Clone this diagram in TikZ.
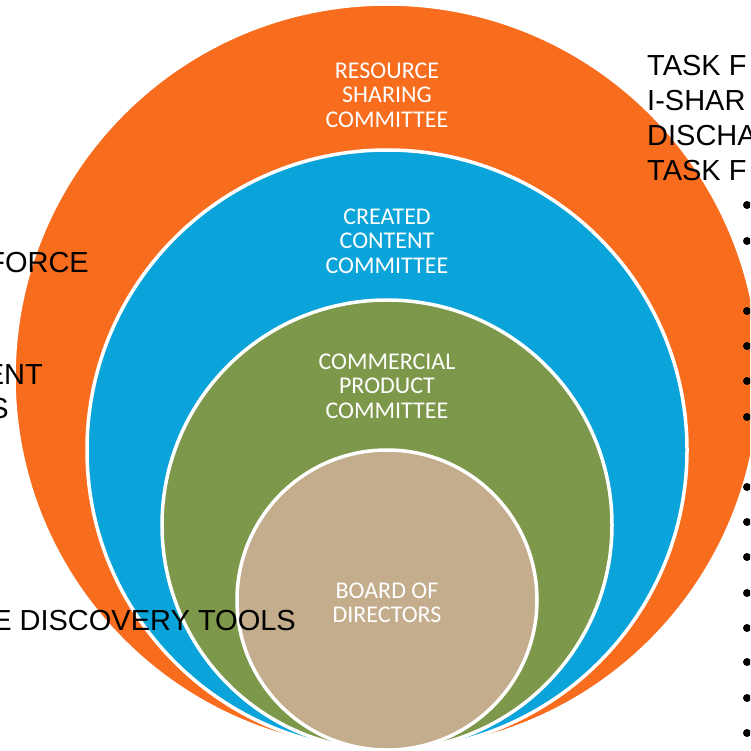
\documentclass[tikz,border=0pt]{standalone}
\usepackage{fontspec}
\setmainfont{Liberation Sans}
\newfontfamily\labelfont{Carlito}
\definecolor{ringorange}{RGB}{248,108,30}
\definecolor{ringblue}{RGB}{10,163,218}
\definecolor{ringgreen}{RGB}{125,152,74}
\definecolor{ringbeige}{RGB}{196,173,140}
\begin{document}
\begin{tikzpicture}[x=1pt,y=-1pt,
  ring/.style={draw=white,line width=3.5pt},
  inlabel/.style={text=white,font=\labelfont\fontsize{24}{24.5}\selectfont,align=center,inner sep=0pt},
  outtext/.style={text=black,font=\fontsize{29}{35}\selectfont,inner sep=0pt},
  bulletdot/.style={fill=black}]
\useasboundingbox (0,0) rectangle (750,751);
\clip (0,0) rectangle (750,751);
% rings
\filldraw[ring,fill=ringorange] (387,377) circle[radius=373pt];
\filldraw[ring,fill=ringblue] (387,450) circle[radius=300pt];
\filldraw[ring,fill=ringgreen] (387,525) circle[radius=225pt];
\filldraw[ring,fill=ringbeige] (387,600) circle[radius=150pt];
% ring labels
\node[inlabel] (rs) at (387,95) {RESOURCE\\SHARING\\COMMITTEE};
\node[inlabel] (cc) at (387,241) {CREATED\\CONTENT\\COMMITTEE};
\node[inlabel] (cp) at (387,386) {COMMERCIAL\\PRODUCT\\COMMITTEE};
\node[inlabel] (bd) at (387,603) {BOARD OF\\DIRECTORS};
% right text
\node[outtext,anchor=west] (r1) at (647,66) {TASK F};
\node[outtext,anchor=west] (r2) at (647,101) {I-SHAR};
\node[outtext,anchor=west] (r3) at (647,136) {DISCHA};
\node[outtext,anchor=west] (r4) at (647,171) {TASK F};
\foreach \yy in {205,241,311,346,381,417,487,522,557,593,628,662,698,733}
  \fill[bulletdot] (747,\yy) circle[radius=4pt];
% left text
\node[outtext,anchor=east] (l1) at (89,263) {FORCE};
\node[outtext,anchor=east] (l2) at (43,375) {ENT};
\node[outtext,anchor=east] (l3) at (9,409) {S};
\node[outtext,anchor=east] (l4) at (296,621) {E DISCOVERY TOOLS};
\end{tikzpicture}
\end{document}
